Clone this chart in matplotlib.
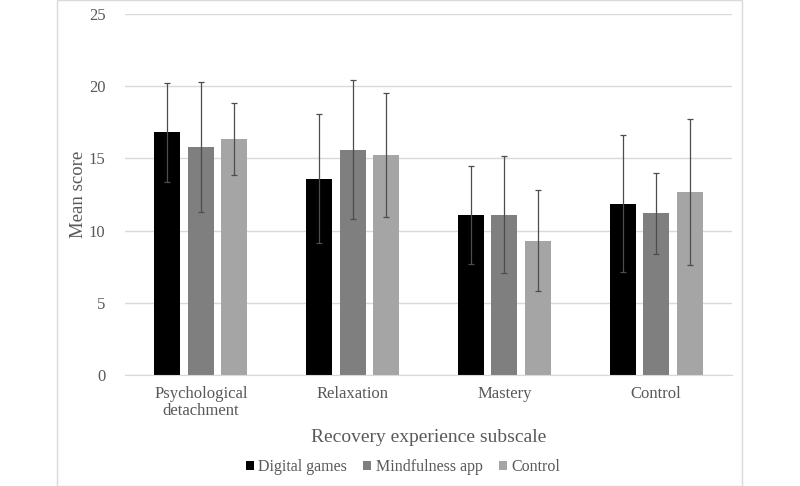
import numpy as np
import matplotlib.pyplot as plt
from matplotlib.patches import Rectangle

plt.rcParams['font.family'] = ['Liberation Serif', 'DejaVu Serif']

categories = ['Psychological\ndetachment', 'Relaxation', 'Mastery', 'Control']
groups = ['Digital games', 'Mindfulness app', 'Control']
means = [
    [16.8, 13.6, 11.1, 11.85],   # Digital games
    [15.8, 15.6, 11.1, 11.2],    # Mindfulness app
    [16.35, 15.25, 9.3, 12.65],  # Control
]
errors = [
    [3.45, 4.45, 3.4, 4.75],
    [4.5, 4.8, 4.05, 2.8],
    [2.5, 4.3, 3.5, 5.05],
]
colors = ['#000000', '#7f7f7f', '#a5a5a5']
text_color = '#595959'

fig = plt.figure(figsize=(8, 4.86), dpi=100)
# light border around the whole chart
fig.patches.append(Rectangle((57.5 / 800, 0.5 / 486), (742 - 57.5) / 800, 485 / 486,
                             transform=fig.transFigure, fill=False,
                             edgecolor='#d9d9d9', linewidth=1))

ax = fig.add_axes([125 / 800, (486 - 375) / 486, (732 - 125) / 800, (375 - 14) / 486])

x = np.arange(len(categories))
width = 0.172
step = 0.221
for i in range(3):
    ax.bar(x + (i - 1) * step, means[i], width, color=colors[i], label=groups[i], zorder=2)
    ax.errorbar(x + (i - 1) * step, means[i], yerr=errors[i], fmt='none',
                ecolor='#4d4d4d', elinewidth=0.9, capsize=2, capthick=0.9, zorder=3)

ax.set_xlim(-0.5, 3.5)
ax.set_ylim(0, 25)
ax.set_yticks([0, 5, 10, 15, 20, 25])
ax.yaxis.grid(True, color='#d9d9d9', linewidth=1)
ax.set_axisbelow(True)
for s in ['top', 'right', 'left']:
    ax.spines[s].set_visible(False)
ax.spines['bottom'].set_color('#d9d9d9')
ax.set_xticks(x)
ax.set_xticklabels(categories, fontsize=12, color=text_color, linespacing=1.1)
ax.tick_params(axis='both', length=0, labelsize=12, labelcolor=text_color)
ax.tick_params(axis='x', pad=8)
ax.tick_params(axis='y', pad=14)

ax.set_xlabel('Recovery experience subscale', fontsize=14, color=text_color, labelpad=7)
ax.set_ylabel('Mean score', fontsize=13.5, color=text_color, labelpad=1)

fig.legend(loc='center', bbox_to_anchor=(403 / 800, 1 - 467 / 486), ncol=3, frameon=False,
           fontsize=11.5, labelcolor=text_color, handlelength=0.5, handleheight=0.5,
           handletextpad=0.3, columnspacing=1.0)

fig.savefig('out.png', dpi=100)
